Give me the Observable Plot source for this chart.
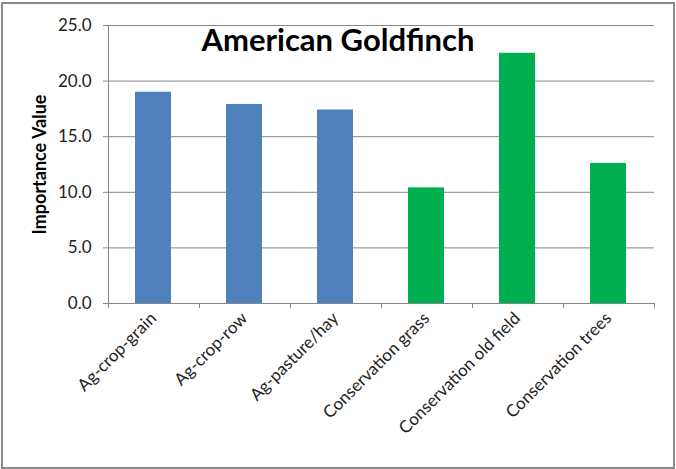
<!DOCTYPE html>
<html>
<head>
<meta charset="utf-8">
<script src="https://cdn.jsdelivr.net/npm/d3@7"></script>
<script src="https://cdn.jsdelivr.net/npm/@observablehq/plot@0.6"></script>
<style>
  html, body { margin: 0; padding: 0; background: #fff; }
  #wrap { position: relative; width: 676px; height: 469px; overflow: hidden; }
  #border { position: absolute; left: 1px; top: 2px; width: 674px; height: 467px; box-sizing: border-box; border: 2px solid #8a8a8a; pointer-events: none; }
  #title { position: absolute; left: 0; width: 676px; top: 21px; text-align: center; font-family: Lato, sans-serif; font-weight: bold; font-size: 31px; line-height: 36px; color: #000; }
</style>
</head>
<body>
<div id="wrap">
  <div id="chart"></div>
  <div id="title">American Goldfinch</div>
  <div id="border"></div>
</div>
<script>
const categories = ["Ag-crop-grain", "Ag-crop-row", "Ag-pasture/hay", "Conservation grass", "Conservation old field", "Conservation trees"];
const values = [19.0, 17.9, 17.4, 10.4, 22.5, 12.6];
const groups = ["Ag", "Ag", "Ag", "Conservation", "Conservation", "Conservation"];
const yTicks = [0, 5, 10, 15, 20, 25];
const groupColors = ["#4F81BD", "#00B050"];
const yLabel = "Importance Value";

const data = categories.map((c, i) => ({category: c, value: values[i], group: groups[i]}));
const gray = "#868686";

function axisDecor(index, scales, vals, dims) {
  const g = d3.create("svg:g");
  const left = dims.marginLeft;
  const top = dims.marginTop, bottom = dims.height - dims.marginBottom;
  g.append("line").attr("x1", left + 0.5).attr("x2", left + 0.5)
    .attr("y1", top).attr("y2", bottom).attr("stroke", gray);
  const s0 = scales.x(categories[0]), s1 = scales.x(categories[1]);
  const step = s1 - s0;
  for (let i = 0; i <= categories.length; i++) {
    const x = Math.round(left + i * step) + 0.5;
    g.append("line").attr("x1", x).attr("x2", x)
      .attr("y1", bottom).attr("y2", bottom + 5).attr("stroke", gray);
  }
  return g.node();
}

const chart = Plot.plot({
  width: 676,
  height: 469,
  marginLeft: 108,
  marginRight: 22,
  marginTop: 25,
  marginBottom: 166,
  style: {fontFamily: "Lato, sans-serif", fontSize: "17px", color: "#222", background: "transparent"},
  x: {domain: categories, paddingInner: 0.6, paddingOuter: 0.3},
  y: {domain: [0, 25]},
  color: {domain: ["Ag", "Conservation"], range: groupColors},
  marks: [
    Plot.gridY(yTicks, {stroke: gray, strokeOpacity: 1}),
    Plot.barY(data, {x: "category", y: "value", fill: "group"}),
    Plot.axisY(yTicks, {tickFormat: d3.format(".1f"), tickSize: 5, tickPadding: 12, stroke: gray, label: null, fontSize: 17}),
    Plot.axisX({tickSize: 0, tickRotate: -45, tickPadding: 12, label: null, fontSize: 17}),
    Plot.text([yLabel], {frameAnchor: "left", textAnchor: "middle", rotate: -90, dx: -68, fontWeight: "bold", fontSize: 18, fill: "#000"}),
    axisDecor
  ]
});
document.getElementById("chart").appendChild(chart);
</script>
</body>
</html>
